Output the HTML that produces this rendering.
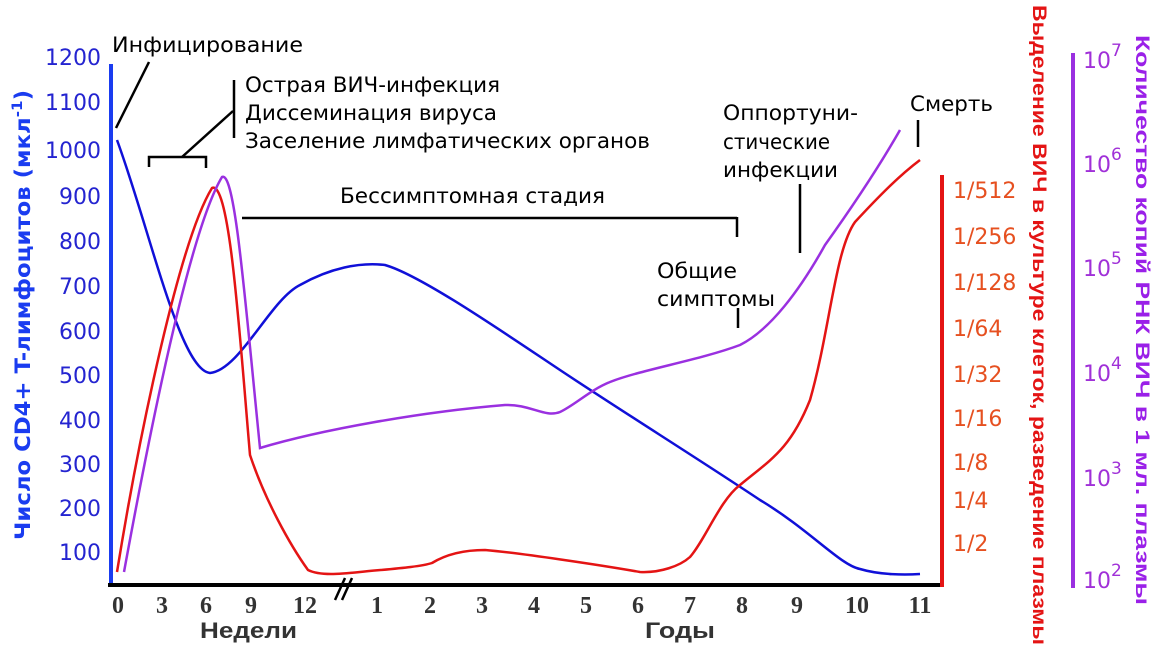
<!DOCTYPE html>
<html><head><meta charset="utf-8"><style>
body{margin:0;background:#fff;width:1170px;height:667px;overflow:hidden}
svg text{font-family:"DejaVu Sans","Liberation Sans",sans-serif}
svg text.ser{font-family:"Liberation Serif",serif}
svg text.lib{font-family:"Liberation Sans",sans-serif}
</style></head><body>
<svg width="1170" height="667" viewBox="0 0 1170 667" xmlns="http://www.w3.org/2000/svg">
<line x1="111" y1="64" x2="111" y2="586" stroke="#1a3cf0" stroke-width="4"/>
<line x1="108" y1="585" x2="944" y2="585" stroke="#000" stroke-width="4"/>
<line x1="942" y1="175" x2="942" y2="587" stroke="#e41414" stroke-width="4"/>
<line x1="1073" y1="53" x2="1073" y2="588" stroke="#9a30e0" stroke-width="4"/>
<line x1="335" y1="600" x2="345" y2="578" stroke="#000" stroke-width="2.5"/>
<line x1="342" y1="600" x2="352" y2="578" stroke="#000" stroke-width="2.5"/>
<g fill="#2424d0" font-size="22" text-anchor="end">
<text x="101" y="65">1200</text><text x="101" y="110">1100</text><text x="101" y="158">1000</text>
<text x="101" y="204">900</text><text x="101" y="249">800</text><text x="101" y="294">700</text>
<text x="101" y="339">600</text><text x="101" y="383">500</text><text x="101" y="428">400</text>
<text x="101" y="472">300</text><text x="101" y="516">200</text><text x="101" y="560">100</text>
</g>
<text transform="translate(30,315) rotate(-90)" text-anchor="middle" fill="#1a3cf0" font-size="21" font-weight="bold" textLength="450" lengthAdjust="spacingAndGlyphs">Число CD4+ T-лимфоцитов (мкл<tspan dy="-8" font-size="14">-1</tspan><tspan dy="8">)</tspan></text>
<g fill="#333" font-size="24" font-weight="bold" text-anchor="middle">
<text class="ser" x="118" y="613">0</text><text class="ser" x="162" y="613">3</text><text class="ser" x="206" y="613">6</text><text class="ser" x="251" y="613">9</text><text class="ser" x="305" y="613">12</text>
<text class="ser" x="377" y="613">1</text><text class="ser" x="430" y="613">2</text><text class="ser" x="482" y="613">3</text><text class="ser" x="534" y="613">4</text><text class="ser" x="586" y="613">5</text>
<text class="ser" x="638" y="613">6</text><text class="ser" x="690" y="613">7</text><text class="ser" x="742" y="613">8</text><text class="ser" x="797" y="613">9</text><text class="ser" x="857" y="613">10</text><text class="ser" x="920" y="613">11</text>
</g>
<text class="lib" x="200" y="638" fill="#333" font-size="22" font-weight="bold" textLength="97" lengthAdjust="spacingAndGlyphs">Недели</text>
<text class="lib" x="645" y="638" fill="#333" font-size="22" font-weight="bold" textLength="70" lengthAdjust="spacingAndGlyphs">Годы</text>
<g fill="#e65020" font-size="22">
<text x="953" y="198">1/512</text><text x="953" y="244">1/256</text><text x="953" y="290">1/128</text>
<text x="953" y="336">1/64</text><text x="953" y="382">1/32</text><text x="953" y="426">1/16</text>
<text x="953" y="470">1/8</text><text x="953" y="508">1/4</text><text x="953" y="551">1/2</text>
</g>
<text class="lib" transform="translate(1033,325) rotate(90)" text-anchor="middle" fill="#e41414" font-size="19" font-weight="bold" textLength="640" lengthAdjust="spacingAndGlyphs">Выделение ВИЧ в культуре клеток, разведение плазмы</text>
<g fill="#a030d8" font-size="22">
<text x="1083" y="68">10<tspan dy="-12" font-size="17">7</tspan></text>
<text x="1083" y="172">10<tspan dy="-12" font-size="17">6</tspan></text>
<text x="1083" y="276">10<tspan dy="-12" font-size="17">5</tspan></text>
<text x="1083" y="381">10<tspan dy="-12" font-size="17">4</tspan></text>
<text x="1083" y="486">10<tspan dy="-12" font-size="17">3</tspan></text>
<text x="1083" y="588">10<tspan dy="-12" font-size="17">2</tspan></text>
</g>
<text class="lib" transform="translate(1136,320) rotate(90)" text-anchor="middle" fill="#9a20e8" font-size="19" font-weight="bold" textLength="570" lengthAdjust="spacingAndGlyphs">Количество копий РНК ВИЧ в 1 мл. плазмы</text>
<path d="M117,140 C150,230 180,370 210,373 C240,370 270,300 300,285 C330,268 360,262 385,265 C420,275 500,330 560,370 C620,410 700,460 760,500 C810,530 840,565 860,569 C880,575 905,575 920,574" fill="none" stroke="#1010d8" stroke-width="2.5"/>
<path d="M117,572 C140,430 180,240 212,188 C230,180 240,340 250,455 C265,500 290,545 308,570 C320,576 340,574 360,572 C390,569 420,567 432,563 C450,552 470,550 485,550 C520,553 600,565 640,572 C660,573 680,566 690,557 C705,540 720,500 740,485 C770,460 790,450 810,400 C830,330 835,250 855,222 C880,195 900,175 920,160" fill="none" stroke="#e41414" stroke-width="2.5"/>
<path d="M124,572 C150,430 190,230 222,177 C235,170 245,300 260,448 C320,430 420,412 505,405 C530,404 545,418 560,412 C575,405 590,390 610,382 C640,370 700,360 740,345 C770,330 800,290 825,245 C850,210 880,165 900,130" fill="none" stroke="#9a30e0" stroke-width="2.5"/>
<g stroke="#000" stroke-width="2.5" fill="none">
<line x1="116" y1="128" x2="149" y2="62"/>
<polyline points="149,167 149,157 206,157 206,168"/>
<line x1="182" y1="157" x2="233" y2="111"/>
<line x1="234" y1="80" x2="234" y2="138"/>
<line x1="242" y1="218" x2="737" y2="218"/>
<line x1="737" y1="217" x2="737" y2="237"/>
<line x1="738" y1="308" x2="738" y2="328"/>
<line x1="800" y1="184" x2="800" y2="253"/>
<line x1="918" y1="120" x2="918" y2="147"/>
</g>
<g fill="#000" font-size="21">
<text x="112" y="52" textLength="191" lengthAdjust="spacingAndGlyphs">Инфицирование</text>
<text x="245" y="92" textLength="255" lengthAdjust="spacingAndGlyphs">Острая ВИЧ-инфекция</text>
<text x="245" y="120" textLength="252" lengthAdjust="spacingAndGlyphs">Диссеминация вируса</text>
<text x="245" y="148" textLength="405" lengthAdjust="spacingAndGlyphs">Заселение лимфатических органов</text>
<text x="340" y="203" textLength="265" lengthAdjust="spacingAndGlyphs">Бессимптомная стадия</text>
<text x="657" y="278" textLength="80" lengthAdjust="spacingAndGlyphs">Общие</text>
<text x="657" y="306" textLength="118" lengthAdjust="spacingAndGlyphs">симптомы</text>
<text x="723" y="120" textLength="135" lengthAdjust="spacingAndGlyphs">Оппортуни-</text>
<text x="723" y="149" textLength="107" lengthAdjust="spacingAndGlyphs">стические</text>
<text x="723" y="177" textLength="115" lengthAdjust="spacingAndGlyphs">инфекции</text>
<text x="910" y="111" textLength="83" lengthAdjust="spacingAndGlyphs">Смерть</text>
</g>
</svg>
</body></html>
